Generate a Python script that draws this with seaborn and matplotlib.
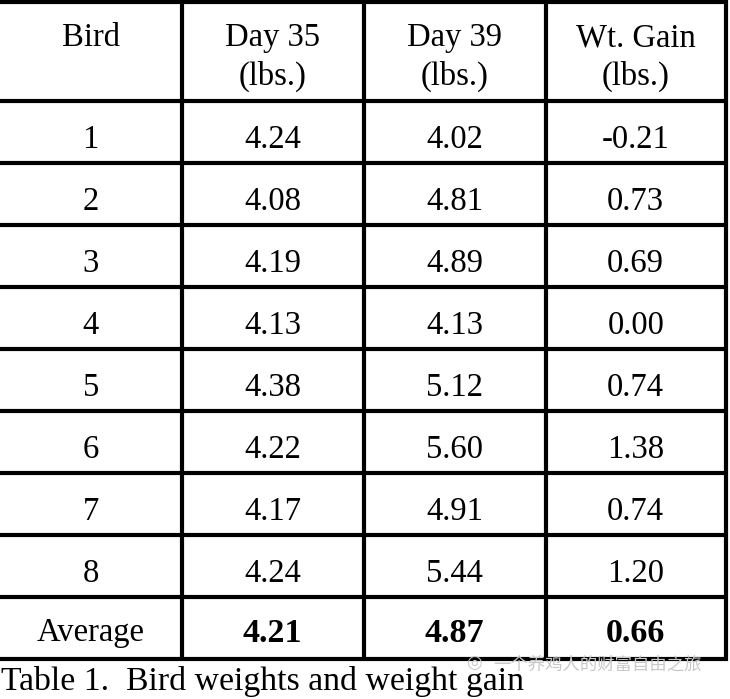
import matplotlib
matplotlib.use("Agg")
import matplotlib.pyplot as plt
import seaborn as sns

# ---- data ----
headers = ["Bird", "Day 35\n(lbs.)", "Day 39\n(lbs.)", "Wt. Gain\n(lbs.)"]
birds = ["1", "2", "3", "4", "5", "6", "7", "8"]
day35 = ["4.24", "4.08", "4.19", "4.13", "4.38", "4.22", "4.17", "4.24"]
day39 = ["4.02", "4.81", "4.89", "4.13", "5.12", "5.60", "4.91", "5.44"]
gain = ["-0.21", "0.73", "0.69", "0.00", "0.74", "1.38", "0.74", "1.20"]
avg_label = "Average"
avg_values = ["4.21", "4.87", "0.66"]
caption = "Table 1.  Bird weights and weight gain"
watermark = "一个养鸡人的财富自由之旅"

sns.set_theme(style="white")
plt.rcParams["font.family"] = ["Liberation Serif", "DejaVu Serif"]

fig = plt.figure(figsize=(7.30, 6.99), dpi=100)
ax = fig.add_axes([0, 0, 1, 1])
ax.set_xlim(0, 730)
ax.set_ylim(699, 0)
ax.axis("off")

col_edges = [0, 181.5, 363.5, 545.5, 726]
header_top = 1.5
header_bottom = 101
row_h = 62
n_rows = len(birds) + 1
lw = 3.0

# horizontal lines
ax.plot([0, 727.5], [header_top, header_top], color="black", lw=lw, solid_capstyle="butt")
for i in range(n_rows + 1):
    y = header_bottom + i * row_h
    ax.plot([0, 727.5], [y, y], color="black", lw=lw, solid_capstyle="butt")
bottom = header_bottom + n_rows * row_h
# vertical lines (no left border)
for x in col_edges[1:]:
    ax.plot([x, x], [header_top - 1.5, bottom + 1.5], color="black", lw=lw, solid_capstyle="butt")

centers = [(col_edges[i] + col_edges[i + 1]) / 2 for i in range(4)]
fs = 23.5

# header
for c, h in zip(centers, headers):
    lines = h.split("\n")
    ax.text(c, 38, lines[0], ha="center", va="center", fontsize=fs, color="black")
    if len(lines) > 1:
        ax.text(c, 76, lines[1], ha="center", va="center", fontsize=fs, color="black")

# data rows
for i in range(len(birds)):
    yc = header_bottom + i * row_h + row_h / 2 + 8
    for c, v in zip(centers, [birds[i], day35[i], day39[i], gain[i]]):
        ax.text(c, yc, v, ha="center", va="center", fontsize=fs, color="black")

# average row
yc = header_bottom + len(birds) * row_h + row_h / 2 + 5
ax.text(centers[0], yc, avg_label, ha="center", va="center", fontsize=fs, color="black")
for c, v in zip(centers[1:], avg_values):
    ax.text(c, yc, v, ha="center", va="center", fontsize=fs + 1, fontweight="bold", color="black")

# caption
ax.text(1, 690, caption, ha="left", va="baseline", fontsize=24.3, color="black")

# watermark
ax.text(598, 665, watermark, ha="center", va="center", fontsize=12.5,
        color="#c8c8c8", family=["Noto Sans CJK SC", "DejaVu Sans"])
ax.text(474, 663, "◎", ha="center", va="center", fontsize=13, color="#c8c8c8",
        family=["DejaVu Sans"])

fig.savefig("out.png", dpi=100, facecolor="white")
